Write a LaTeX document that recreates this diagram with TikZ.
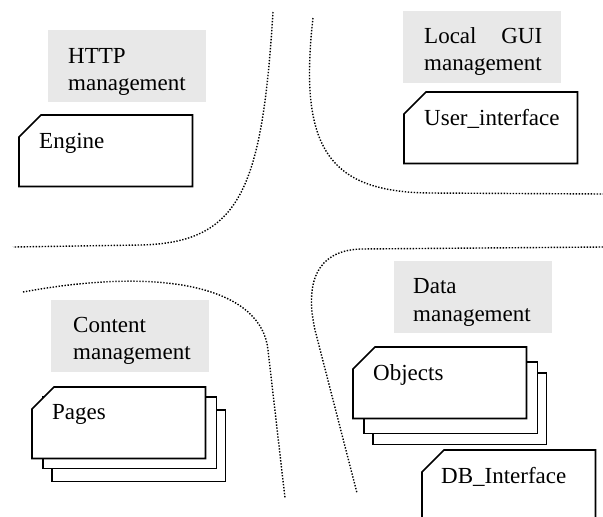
\documentclass[tikz,border=0pt]{standalone}
\usepackage{fontspec}
\setmainfont{Liberation Serif}
\definecolor{panelgray}{RGB}{232,232,232}
\newcommand{\notchsheet}[1]{\draw[outline] ([xshift=22pt]#1.north west) -- (#1.north east) -- (#1.south east) -- (#1.south west) -- ([yshift=-22pt]#1.north west) -- cycle;}
\newcommand{\plainsheet}[1]{\draw[outline] (#1.north west) rectangle (#1.south east);}
\begin{document}
\begin{tikzpicture}[x=1pt,y=-1pt,
  lbl/.style={anchor=base west, inner sep=0, font=\fontsize{23}{27}\selectfont},
  panel/.style={fill=panelgray, draw=none, anchor=north west, inner sep=0, minimum width=158pt, minimum height=72pt},
  sheet/.style={draw=none, anchor=north west, inner sep=0, minimum width=173pt, minimum height=71pt},
  outline/.style={draw=black, line width=1.7pt, fill=white, line join=miter},
  divider/.style={line width=1.4pt, dash pattern=on 1.4pt off 1.6pt}]
\useasboundingbox (0,0) rectangle (603,517);
\clip (0,0) rectangle (603,517);
\fill[white] (0,0) rectangle (603,517);

% dividers
\draw[divider] (273,12) .. controls (262,190) and (240,243) .. (140,245) -- (13,247);
\draw[divider] (313,18) .. controls (298,150) and (330,192) .. (430,193) -- (603,194);
\draw[divider] (603,247) -- (360,249) .. controls (315,251) and (305,285) .. (315,330) -- (357,493);
\draw[divider] (23,292) .. controls (170,265) and (262,290) .. (268,350) -- (285,498);

% panels
\node[panel] (httpP) at (48,30) {};
\node[lbl] (httpT1) at (68,63) {HTTP};
\node[lbl] (httpT2) at (68,90) {management};

\node[panel] (localP) at (403,11) {};
\node[lbl] (localT1) at (424,43) {\hbox to 118pt{Local\hfill GUI}};
\node[lbl] (localT2) at (424,70) {management};

\node[panel] (contentP) at (51,300) {};
\node[lbl] (contentT1) at (73,332) {Content};
\node[lbl] (contentT2) at (73,359) {management};

\node[panel] (dataP) at (394,261) {};
\node[lbl] (dataT1) at (413,293) {Data};
\node[lbl] (dataT2) at (413,321) {management};

% sheets
\node[sheet] (engine) at (19,115) {};
\notchsheet{engine}
\node[lbl] (engineT) at (39,148) {Engine};

\node[sheet] (user) at (404,92) {};
\notchsheet{user}
\node[lbl] (userT) at (424,125) {User\_interface};

\node[sheet] (pagesC) at (52,410) {};
\plainsheet{pagesC}
\node[sheet] (pagesB) at (43,397) {};
\plainsheet{pagesB}
\node[sheet] (pagesA) at (32,387) {};
\notchsheet{pagesA}
\node[lbl] (pagesT) at (52,419) {Pages};

\node[sheet] (objC) at (373,373) {};
\plainsheet{objC}
\node[sheet] (objB) at (364,362) {};
\plainsheet{objB}
\node[sheet] (objA) at (353,347) {};
\notchsheet{objA}
\node[lbl] (objT) at (373,380) {Objects};

\node[sheet] (db) at (422,450) {};
\notchsheet{db}
\node[lbl] (dbT) at (441,483) {DB\_Interface};
\end{tikzpicture}
\end{document}
